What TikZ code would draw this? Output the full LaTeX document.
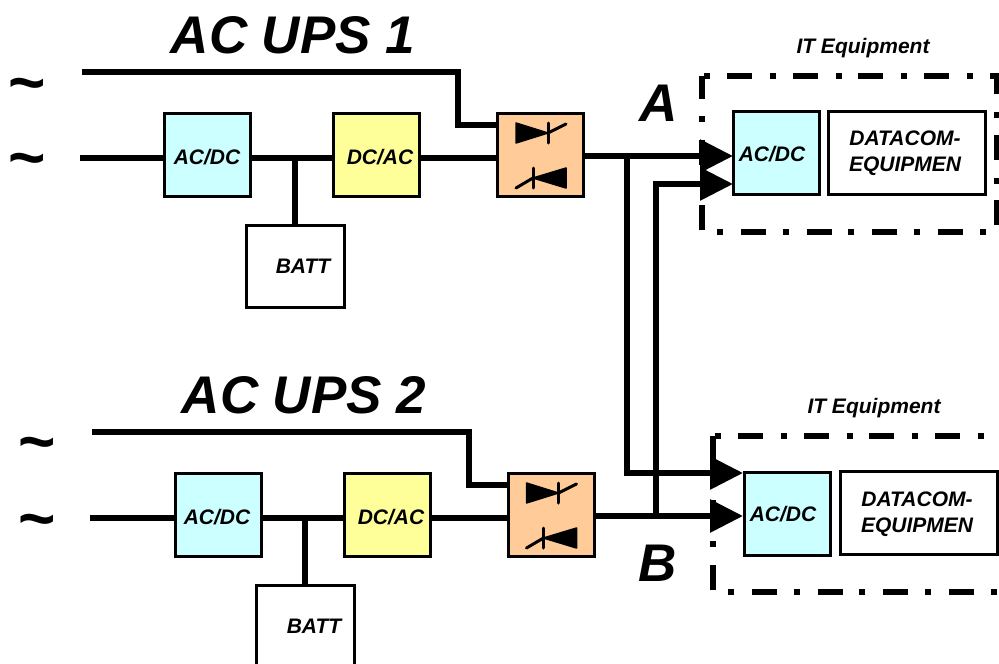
\documentclass[tikz,border=0pt]{standalone}
\usepackage{fontspec}
\setmainfont{Liberation Sans}
\usetikzlibrary{arrows.meta}
\definecolor{boxcyan}{HTML}{CCFFFF}
\definecolor{boxyellow}{HTML}{FFFF99}
\definecolor{boxorange}{HTML}{FFCC99}
\tikzset{
  lbl/.style={font=\fontsize{21}{26}\selectfont\bfseries\itshape},
  big/.style={font=\fontsize{53}{56}\selectfont\bfseries\itshape},
  tilde/.style={font=\fontsize{64}{64}\selectfont\bfseries},
  block/.style={draw,line width=3pt,minimum width=86pt,minimum height=83pt,inner sep=0pt},
  wire/.style={line width=5.5pt},
  feed/.style={line width=6pt,-{Triangle[length=33pt,width=32pt]}},
  itbox/.style={line width=5.5pt,dash pattern=on 25pt off 18pt on 6pt off 16.7pt,dash phase=40.7pt},
  diode/.style={fill,line width=1.5pt,line join=round},
  bar/.style={line width=3pt,line cap=round}
}
\begin{document}
\begin{tikzpicture}[x=1pt,y=-1pt]
\useasboundingbox (0,0) rectangle (999,664);
% first UPS
\node[big] (titleA) at (293,35) {AC UPS 1};
\node[tilde] (tildeA) at (27,91) {\char"007E};
\node[tilde] (tildeB) at (27,166) {\char"007E};
\node[block,fill=boxcyan] (acdcA) at (207.5,154.5) {};
\node[block,fill=boxyellow] (dcacA) at (376.5,154.5) {};
\node[block,fill=boxorange] (swA) at (540.5,155) {};
\node[block,minimum width=98pt,minimum height=82pt] (battA) at (295,266) {};
\node[lbl] (acdclblA) at (207,157) {AC/DC};
\node[lbl] (dcaclblA) at (380,157) {DC/AC};
\node[lbl] (battlblA) at (303,266) {BATT};
\coordinate (inA) at (80,158);
\coordinate (bypA) at (82,72);
\coordinate (tapA) at (295,158);
\coordinate (bendA) at (458,72);
\coordinate (swinA) at (458,125);
\draw[wire] (inA) -- (inA -| acdcA.west);
\draw[wire] (inA -| acdcA.east) -- (inA -| dcacA.west);
\draw[wire] (inA -| dcacA.east) -- (inA -| swA.west);
\draw[wire] (tapA) -- (tapA |- battA.north);
\draw[wire] (bypA) -- (bendA) -- (swinA) -- (swinA -| swA.west);
% second UPS
\node[big] (titleB) at (304,395) {AC UPS 2};
\node[tilde] (tildeC) at (37,450) {\char"007E};
\node[tilde] (tildeD) at (37,527) {\char"007E};
\node[block,fill=boxcyan] (acdcB) at (218,514.5) {};
\node[block,fill=boxyellow] (dcacB) at (387,514.5) {};
\node[block,fill=boxorange] (swB) at (551,515) {};
\node[block,minimum width=98pt,minimum height=82pt] (battB) at (305.5,626) {};
\node[lbl] (acdclblB) at (217,517) {AC/DC};
\node[lbl] (dcaclblB) at (391,517) {DC/AC};
\node[lbl] (battlblB) at (314,626) {BATT};
\coordinate (inB) at (90,518);
\coordinate (bypB) at (92,432);
\coordinate (tapB) at (305,518);
\coordinate (bendB) at (469,432);
\coordinate (swinB) at (469,485);
\draw[wire] (inB) -- (inB -| acdcB.west);
\draw[wire] (inB -| acdcB.east) -- (inB -| dcacB.west);
\draw[wire] (inB -| dcacB.east) -- (inB -| swB.west);
\draw[wire] (tapB) -- (tapB |- battB.north);
\draw[wire] (bypB) -- (bendB) -- (swinB) -- (swinB -| swB.west);
% diodes
\foreach \sw in {swA,swB}{
  \begin{scope}[shift={(\sw.center)}]
    \draw[diode] (-24.5,-32) -- (-24.5,-12) -- (7.5,-22) -- cycle;
    \draw[bar] (7.5,-32) -- (7.5,-12);
    \draw[bar] (7.5,-22) -- (25.5,-31);
    \draw[diode] (25.5,13) -- (25.5,33) -- (-7.5,23) -- cycle;
    \draw[bar] (-7.5,13) -- (-7.5,33);
    \draw[bar] (-7.5,23) -- (-24.5,33);
  \end{scope}
}
% IT equipment
\node[lbl] (itlblA) at (863,48) {IT Equipment};
\node[lbl] (itlblB) at (874,408) {IT Equipment};
\coordinate (itAnw) at (702,76);
\coordinate (itAse) at (997,232);
\coordinate (itBnw) at (713,436);
\coordinate (itBse) at (1008,592);
\draw[itbox] (itAnw) -| (itAse) -| (itAnw) -- cycle;
\draw[itbox] (itBnw) -| (itBse) -| (itBnw) -- cycle;
\node[block,fill=boxcyan] (psuA) at (776.5,153) {};
\node[block,fill=boxcyan] (psuB) at (787.5,513.5) {};
\node[block,minimum width=157pt] (dataA) at (906.5,152.5) {};
\node[block,minimum width=157pt] (dataB) at (918.5,512.5) {};
\node[lbl] (psulblA) at (772,154) {AC/DC};
\node[lbl] (psulblB) at (783,514) {AC/DC};
\node[lbl,align=center] (datalblA) at (905,153) {DATACOM-\\EQUIPMEN};
\node[lbl,align=center] (datalblB) at (917,514) {DATACOM-\\EQUIPMEN};
% feeds
\coordinate (outA) at (584,156);
\coordinate (outB) at (595,516);
\coordinate (tipAa) at (733,156);
\coordinate (tipAb) at (733,184);
\coordinate (tipBa) at (743,473);
\coordinate (tipBb) at (743,516);
\coordinate (crossA) at (627,156);
\coordinate (crossB) at (656,516);
\draw[feed] (outA) -- (tipAa);
\draw[feed] (outB) -- (tipBb);
\draw[feed] (crossA) |- (tipBa);
\draw[feed] (crossB) |- (tipAb);
\node[big] (labA) at (659,103) {A};
\node[big] (labB) at (658,563) {B};
\end{tikzpicture}
\end{document}
